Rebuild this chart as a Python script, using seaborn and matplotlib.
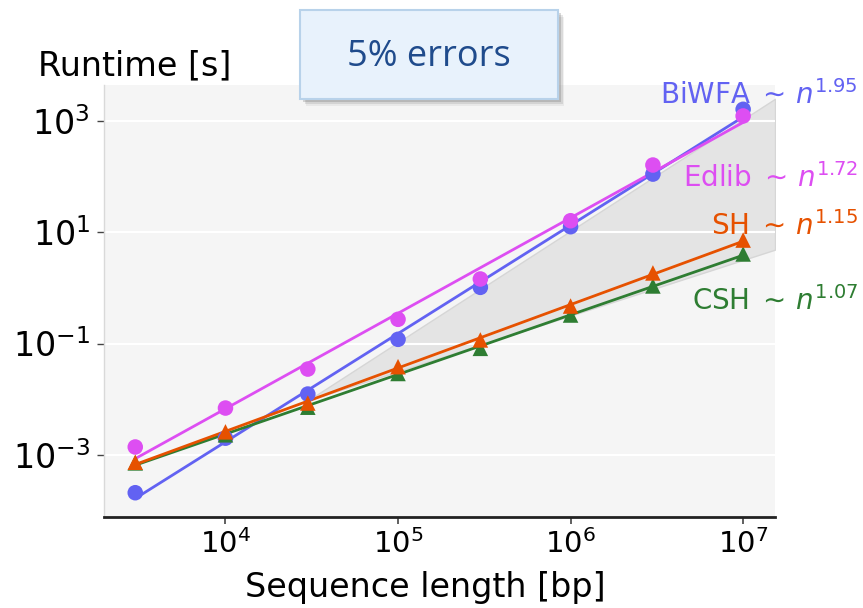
import numpy as np
import pandas as pd
import matplotlib
matplotlib.use("Agg")
import matplotlib.pyplot as plt
import seaborn as sns
from matplotlib.patches import Rectangle
from matplotlib.ticker import NullLocator

# ---------------- data ----------------
lengths = [3e3, 1e4, 3e4, 1e5, 3e5, 1e6, 3e6, 1e7]
biwfa = [2.1e-4, 2.0e-3, 0.0124, 0.119, 1.02, 12.5, 110, 1600]
edlib = [1.39e-3, 6.95e-3, 0.0348, 0.272, 1.44, 16.0, 160, 1215]
sh = [7.4e-4, 2.6e-3, 8.55e-3, 0.0384, 0.116, 0.471, 1.85, 7.2]
csh = [7.2e-4, 2.3e-3, 7.2e-3, 0.029, 0.082, 0.325, 1.08, 4.05]
tools = ["BiWFA", "Edlib", "CSH", "SH"]
exponents = ["1.95", "1.72", "1.07", "1.15"]
colors = ["#6262f2", "#dd4ef2", "#2e7d32", "#e65100"]
markers = ["o", "o", "^", "^"]
title = "5% errors"

series = {"BiWFA": biwfa, "Edlib": edlib, "CSH": csh, "SH": sh}
palette = dict(zip(tools, colors))
marker_map = dict(zip(tools, markers))

rows = []
for t in tools:
    for n, v in zip(lengths, series[t]):
        rows.append({"tool": t, "n": n, "runtime": v})
df = pd.DataFrame(rows)

# power-law fits in log-log space
fit_rows = []
for t in tools:
    k, c = np.polyfit(np.log10(lengths), np.log10(series[t]), 1)
    for n in [lengths[0], lengths[-1]]:
        fit_rows.append({"tool": t, "n": n, "runtime": 10 ** (c + k * np.log10(n))})
fit_df = pd.DataFrame(fit_rows)

# ---------------- figure ----------------
sns.set_theme(style="white")
plt.rcParams["font.family"] = ["DejaVu Sans"]
plt.rcParams["text.color"] = "black"
plt.rcParams["axes.labelcolor"] = "black"
plt.rcParams["xtick.labelcolor"] = "black"
plt.rcParams["ytick.labelcolor"] = "black"

W, H = 863, 608
fig, ax = plt.subplots(figsize=(W / 100, H / 100), dpi=100)
fig.subplots_adjust(left=104 / W, right=775 / W, bottom=1 - 517 / H, top=1 - 85 / H)
ax.set_facecolor("#f5f5f5")
ax.set_xscale("log")
ax.set_yscale("log")
ax.set_xlim(1977, 1.53e7)
ax.set_ylim(7.7e-5, 4370)

# reference wedge (n^1 .. n^2)
x0, y0 = 3e4, 0.0095
xw = np.array([x0, 1.53e7])
ax.fill_between(xw, y0 * (xw / x0), y0 * (xw / x0) ** 2, color="#e4e4e4",
                edgecolor="#d6d6d6", linewidth=1.0, zorder=0.3)

sns.lineplot(data=fit_df, x="n", y="runtime", hue="tool", hue_order=tools,
             palette=palette, linewidth=2.0, legend=False, ax=ax, zorder=2)
sns.scatterplot(data=df, x="n", y="runtime", hue="tool", hue_order=tools,
                style="tool", markers=marker_map, palette=palette, s=125,
                linewidth=0, legend=False, ax=ax, zorder=3)

ax.set_xticks([1e4, 1e5, 1e6, 1e7])
ax.set_yticks([1e-3, 1e-1, 1e1, 1e3])
ax.xaxis.set_minor_locator(NullLocator())
ax.yaxis.set_minor_locator(NullLocator())
ax.set_axisbelow("line")
ax.grid(axis="y", color="white", linewidth=1.5, zorder=1)
ax.grid(axis="x", visible=False)

for s in ["top", "right"]:
    ax.spines[s].set_visible(False)
ax.spines["left"].set_color("#d9d9d9")
ax.spines["left"].set_linewidth(1.0)
ax.spines["bottom"].set_color("#222222")
ax.spines["bottom"].set_linewidth(2.0)

ax.tick_params(axis="y", which="major", length=5, width=1, color="#444444",
               labelsize=24, pad=5, left=True)
ax.tick_params(axis="x", which="major", length=5, width=1.2, color="#444444",
               labelsize=21, pad=4, bottom=True)

ax.set_ylabel("")
ax.set_xlabel("Sequence length [bp]", fontsize=24)
ax.xaxis.label.set_va("baseline")
ax.xaxis.set_label_coords((425 - 104) / 671, (517 - 597) / 432)

fig.text(38 / W, 1 - 75 / H, "Runtime [s]", fontsize=24, ha="left", va="baseline")

# right-side labels
label_base = {"BiWFA": 104, "Edlib": 187, "SH": 235, "CSH": 310}
for t, e in zip(tools, exponents):
    fig.text(858 / W, 1 - label_base[t] / H, t + r"$\;\sim\,n^{" + e + "}$",
             fontsize=20, color=palette[t], ha="right", va="baseline")

# title box with shadow
bx0, by0, bx1, by1 = 300, 10, 558, 99
for dx, dy, a in [(6, 7, 0.08), (5, 5, 0.14), (3, 3, 0.22)]:
    fig.patches.append(Rectangle(((bx0 + dx) / W, 1 - (by1 + dy) / H),
                                 (bx1 - bx0) / W, (by1 - by0) / H,
                                 transform=fig.transFigure, facecolor="#555555",
                                 edgecolor="none", alpha=a, zorder=5))
fig.patches.append(Rectangle((bx0 / W, 1 - by1 / H), (bx1 - bx0) / W, (by1 - by0) / H,
                             transform=fig.transFigure, facecolor="#e8f2fc",
                             edgecolor="#b8d2ea", linewidth=1.5, zorder=6))
fig.text((bx0 + bx1) / 2 / W, 1 - 57 / H, title, fontsize=26, color="#1f4b8c",
         ha="center", va="center", family=["Open Sans", "DejaVu Sans"], zorder=7)

fig.savefig("out.png", dpi=100)
